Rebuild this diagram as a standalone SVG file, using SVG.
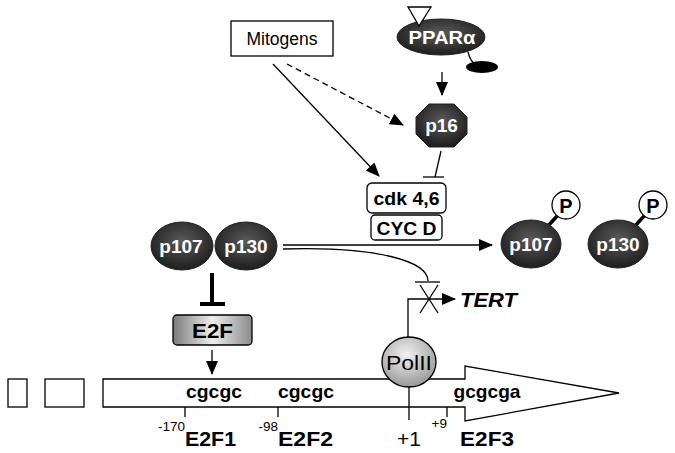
<svg xmlns="http://www.w3.org/2000/svg" width="675" height="453" viewBox="0 0 675 453">
<style>
text{font-family:"Liberation Sans",Arial,sans-serif;}
.b{font-weight:bold;}
.w{fill:#fff;font-weight:bold;font-size:19px;text-anchor:middle;}
.ln{stroke:#000;stroke-width:1.3;fill:none;}
.box{fill:#fff;stroke:#000;stroke-width:1.3;}
.dark{fill:url(#dg);stroke:#222;stroke-width:1;}
</style>
<defs>
<radialGradient id="dg" cx="0.5" cy="0.4" r="0.6">
<stop offset="0" stop-color="#5a5a5a"/>
<stop offset="1" stop-color="#1e1e1e"/>
</radialGradient>
<radialGradient id="pg" cx="0.45" cy="0.35" r="0.65">
<stop offset="0" stop-color="#f2f2f2"/>
<stop offset="1" stop-color="#9a9a9a"/>
</radialGradient>
<linearGradient id="eg" x1="0" y1="0" x2="1" y2="0">
<stop offset="0" stop-color="#7a7a7a"/>
<stop offset="0.5" stop-color="#eeeeee"/>
<stop offset="1" stop-color="#8a8a8a"/>
</linearGradient>
<marker id="ah" markerUnits="userSpaceOnUse" markerWidth="14" markerHeight="12" viewBox="0 0 14 12" refX="13" refY="6" orient="auto">
<path d="M0,0 L14,6 L0,12 Z" fill="#000"/>
</marker>
</defs>

<g id="connectors">
<line class="ln" x1="273" y1="64" x2="379" y2="176" marker-end="url(#ah)"/>
<line class="ln" x1="287" y1="64" x2="403" y2="125" stroke-dasharray="6,4" marker-end="url(#ah)"/>
<line class="ln" x1="442" y1="72" x2="442" y2="95" marker-end="url(#ah)"/>
<path class="ln" d="M468,52 C470,60 472,63 476,64"/>
<line class="ln" x1="441" y1="151" x2="435" y2="177"/>
<line class="ln" x1="423" y1="177" x2="444" y2="177"/>
<line class="ln" x1="283" y1="245" x2="492" y2="245" marker-end="url(#ah)"/>
<path class="ln" d="M283,249 C380,246 428,262 428,281"/>
<line class="ln" x1="415" y1="282" x2="440" y2="282"/>
<line class="ln" x1="420" y1="285" x2="438" y2="313"/>
<line class="ln" x1="438" y1="285" x2="420" y2="313"/>
<path class="ln" d="M408,337 L408,299 L455,299" marker-end="url(#ah)"/>
<line x1="212" y1="273" x2="212" y2="303" stroke="#000" stroke-width="4"/>
<line x1="200" y1="304" x2="225" y2="304" stroke="#000" stroke-width="4"/>
<line class="ln" x1="212" y1="350" x2="212" y2="374" marker-end="url(#ah)"/>
</g>

<g id="mitogens">
<rect class="box" x="231" y="21" width="102" height="35"/>
<text x="282" y="45" font-size="17.5" text-anchor="middle">Mitogens</text>
</g>

<g id="ppara">
<ellipse class="dark" cx="441" cy="37" rx="44" ry="18"/>
<ellipse cx="482" cy="67" rx="16" ry="6" fill="#000"/>
<text class="w" x="442" y="44" font-size="19" textLength="67" lengthAdjust="spacingAndGlyphs">PPARα</text>
<polygon points="408,7 431,7 419,26" fill="#fff" stroke="#000" stroke-width="1.3"/>
</g>

<g id="p16">
<polygon class="dark" points="429,104 454,104 467,117 467,134 454,147 429,147 416,134 416,117"/>
<text class="w" x="441.5" y="132" font-size="20">p16</text>
</g>

<g id="cdk">
<rect class="box" x="367" y="183" width="79" height="30" rx="5"/>
<text class="b" x="406.5" y="205" font-size="19" text-anchor="middle" textLength="66" lengthAdjust="spacingAndGlyphs">cdk 4,6</text>
</g>
<g id="cycd">
<rect class="box" x="371" y="215" width="71" height="25" rx="4"/>
<text class="b" x="406.5" y="234.5" font-size="18" text-anchor="middle" textLength="60" lengthAdjust="spacingAndGlyphs">CYC D</text>
</g>

<g id="p107">
<ellipse class="dark" cx="182" cy="246" rx="31" ry="24"/>
<text class="w" x="181" y="253">p107</text>
</g>
<g id="p130">
<ellipse class="dark" cx="246" cy="246" rx="31" ry="24"/>
<text class="w" x="246" y="253">p130</text>
</g>

<g id="p107P">
<line x1="548" y1="226" x2="558" y2="215" stroke="#000" stroke-width="3.5"/>
<ellipse class="dark" cx="531" cy="244" rx="30" ry="24"/>
<text class="w" x="531" y="251">p107</text>
<circle cx="566" cy="205" r="14" fill="#fff" stroke="#000" stroke-width="1.3"/>
<text class="b" x="566" y="212.5" font-size="20" text-anchor="middle">P</text>
</g>
<g id="p130P">
<line x1="635" y1="226" x2="645" y2="215" stroke="#000" stroke-width="3.5"/>
<ellipse class="dark" cx="618" cy="244" rx="30" ry="24"/>
<text class="w" x="618" y="251">p130</text>
<circle cx="653" cy="205" r="14" fill="#fff" stroke="#000" stroke-width="1.3"/>
<text class="b" x="653" y="212.5" font-size="20" text-anchor="middle">P</text>
</g>

<g id="e2f">
<rect x="173" y="315" width="79" height="30" rx="4" fill="url(#eg)" stroke="#000" stroke-width="1.3"/>
<text class="b" x="212.5" y="338" font-size="21" text-anchor="middle" textLength="41" lengthAdjust="spacingAndGlyphs">E2F</text>
</g>

<g id="tert">
<text class="b" x="460" y="307" font-size="20" font-style="italic" textLength="57" lengthAdjust="spacingAndGlyphs">TERT</text>
</g>

<g id="promoter">
<rect class="box" x="8" y="379" width="19" height="28"/>
<rect class="box" x="45" y="379" width="39" height="28"/>
<polygon class="box" points="103,379 465,379 465,366 619,393 465,421 465,407 103,407"/>
<text class="b" x="214" y="398" font-size="19" text-anchor="middle" textLength="56" lengthAdjust="spacingAndGlyphs">cgcgc</text>
<text class="b" x="306" y="398" font-size="19" text-anchor="middle" textLength="56" lengthAdjust="spacingAndGlyphs">cgcgc</text>
<text class="b" x="487" y="398" font-size="19" text-anchor="middle" textLength="67" lengthAdjust="spacingAndGlyphs">gcgcga</text>
<line class="ln" x1="185" y1="407" x2="185" y2="417"/>
<line class="ln" x1="278" y1="407" x2="278" y2="417"/>
<line class="ln" x1="447" y1="407" x2="447" y2="417"/>
<line class="ln" x1="409" y1="386" x2="409" y2="420"/>
<text x="185" y="431" font-size="13.5" text-anchor="end">-170</text>
<text class="b" x="185" y="446" font-size="21" textLength="51" lengthAdjust="spacingAndGlyphs">E2F1</text>
<text x="278" y="431" font-size="13.5" text-anchor="end">-98</text>
<text class="b" x="278" y="446" font-size="21" textLength="55" lengthAdjust="spacingAndGlyphs">E2F2</text>
<text x="409" y="446" font-size="21" text-anchor="middle">+1</text>
<text x="447" y="428" font-size="13.5" text-anchor="end">+9</text>
<text class="b" x="460" y="446" font-size="21" textLength="54" lengthAdjust="spacingAndGlyphs">E2F3</text>
</g>

<g id="polii">
<ellipse cx="409" cy="362" rx="27" ry="25" fill="url(#pg)" stroke="#000" stroke-width="1.3"/>
<text x="409" y="370" font-size="21" text-anchor="middle" textLength="46" lengthAdjust="spacingAndGlyphs">PolII</text>
</g>
</svg>
